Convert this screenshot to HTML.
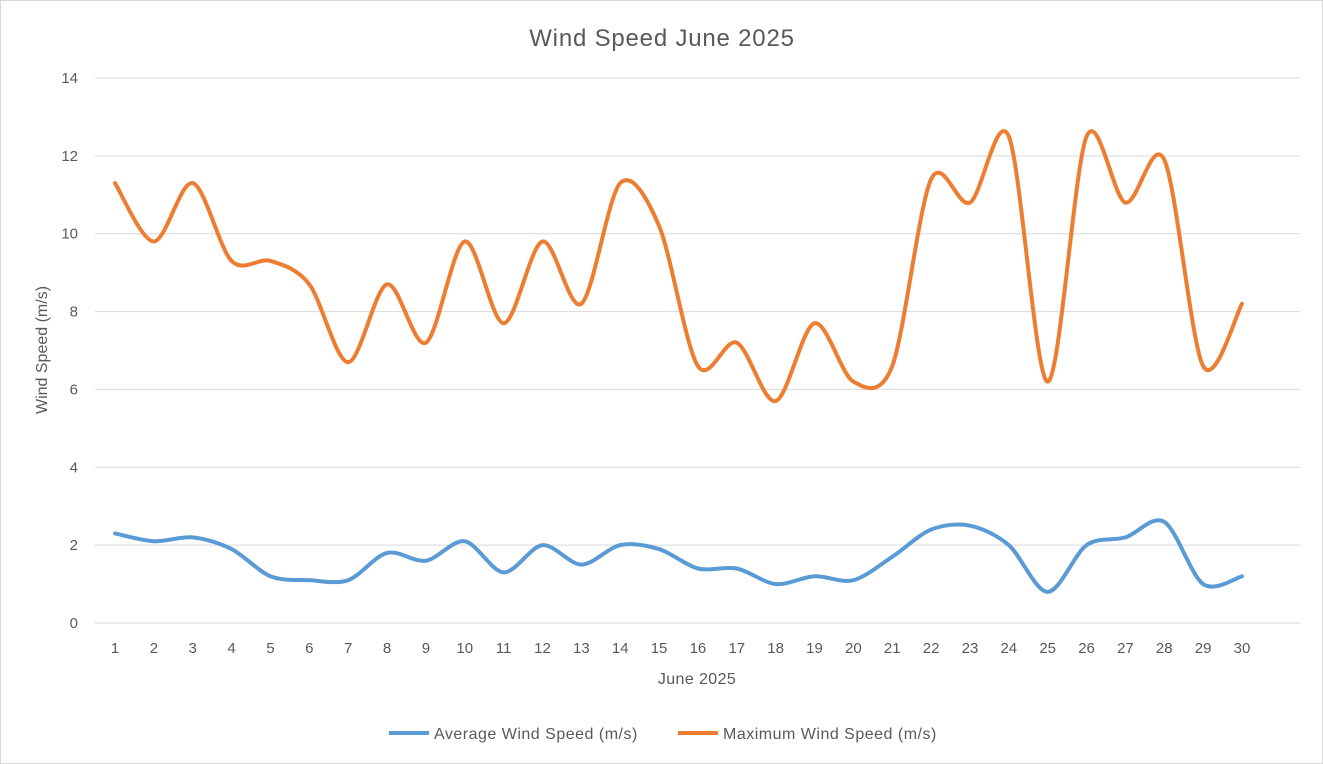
<!DOCTYPE html>
<html><head><meta charset="utf-8"><style>
body{margin:0;background:#fff;}
svg{display:block;font-family:"Liberation Sans",sans-serif;}
</style></head><body>
<svg id="chart" width="1323" height="764">
<rect x="0.5" y="0.5" width="1322" height="763" fill="#fff" stroke="#d9d9d9"/>
<text x="662" y="46" text-anchor="middle" font-size="24" letter-spacing="0.8" fill="#595959">Wind Speed June 2025</text>
<g id="grid"></g><g id="yticks"></g><g id="xticks"></g><g id="series"></g>
<text transform="translate(47,350) rotate(-90)" text-anchor="middle" font-size="16" fill="#595959">Wind Speed (m/s)</text>
<text x="697" y="684" text-anchor="middle" font-size="16" letter-spacing="0.4" fill="#595959">June 2025</text>
<g>
<g><line x1="389" y1="733" x2="429" y2="733" stroke="#5b9bd5" stroke-width="4"/><text x="434" y="739" font-size="16" letter-spacing="0.5" fill="#595959">Average Wind Speed (m/s)</text></g>
<g><line x1="678" y1="733" x2="718" y2="733" stroke="#ed7d31" stroke-width="4"/><text x="723" y="739" font-size="16" letter-spacing="0.5" fill="#595959">Maximum Wind Speed (m/s)</text></g>
</g>
</svg>
<script>
const days=[1,2,3,4,5,6,7,8,9,10,11,12,13,14,15,16,17,18,19,20,21,22,23,24,25,26,27,28,29,30];
const avgSpeed=[2.3,2.1,2.2,1.9,1.2,1.1,1.1,1.8,1.6,2.1,1.3,2.0,1.5,2.0,1.9,1.4,1.4,1.0,1.2,1.1,1.7,2.4,2.5,2.0,0.8,2.0,2.2,2.6,1.0,1.2];
const maxSpeed=[11.3,9.8,11.3,9.3,9.3,8.7,6.7,8.7,7.2,9.8,7.7,9.8,8.2,11.3,10.2,6.6,7.2,5.7,7.7,6.2,6.6,11.4,10.8,12.5,6.2,12.5,10.8,11.9,6.6,8.2];
const yTicks=[0,2,4,6,8,10,12,14];
const NS="http://www.w3.org/2000/svg";
const x0=95,x1=1300,y0=623,y14=78;
const xs=i=>115+(1242-115)/(days.length-1)*i;
const ys=v=>y0-(y0-y14)*v/14;
function mk(tag,attrs,parent){const e=document.createElementNS(NS,tag);for(const k in attrs)e.setAttribute(k,attrs[k]);parent.appendChild(e);return e;}
const grid=document.getElementById('grid'),yt=document.getElementById('yticks'),xt=document.getElementById('xticks'),ser=document.getElementById('series');
yTicks.forEach(t=>{
const l=mk('line',{x1:x0,x2:x1,y1:ys(t),y2:ys(t),stroke:'#d9d9d9','stroke-width':1},grid);


const tx=mk('text',{x:78,y:ys(t)+5,'text-anchor':'end','font-size':15,fill:'#595959'},yt);
tx.textContent=t;


});
days.forEach((d,i)=>{
const tx=mk('text',{x:xs(i),y:653,'text-anchor':'middle','font-size':15,fill:'#595959'},xt);
tx.textContent=d;


});
function smooth(vals){
const p=vals.map((v,i)=>[xs(i),ys(v)]);
let d='M'+p[0][0]+','+p[0][1];
for(let i=0;i<p.length-1;i++){
const a=p[i-1]||p[i],b=p[i],c=p[i+1],e=p[i+2]||c;
const k=6.5;
const c1=[b[0]+(c[0]-a[0])/k,b[1]+(c[1]-a[1])/k],c2=[c[0]-(e[0]-b[0])/k,c[1]-(e[1]-b[1])/k];
d+=' C'+c1+' '+c2+' '+c;
}
return d;
}
const pa=mk('path',{d:smooth(avgSpeed),fill:'none',stroke:'#5b9bd5','stroke-width':4,'stroke-linecap':'round'},ser);


const pm=mk('path',{d:smooth(maxSpeed),fill:'none',stroke:'#ed7d31','stroke-width':4,'stroke-linecap':'round'},ser);


</script>
</body></html>
